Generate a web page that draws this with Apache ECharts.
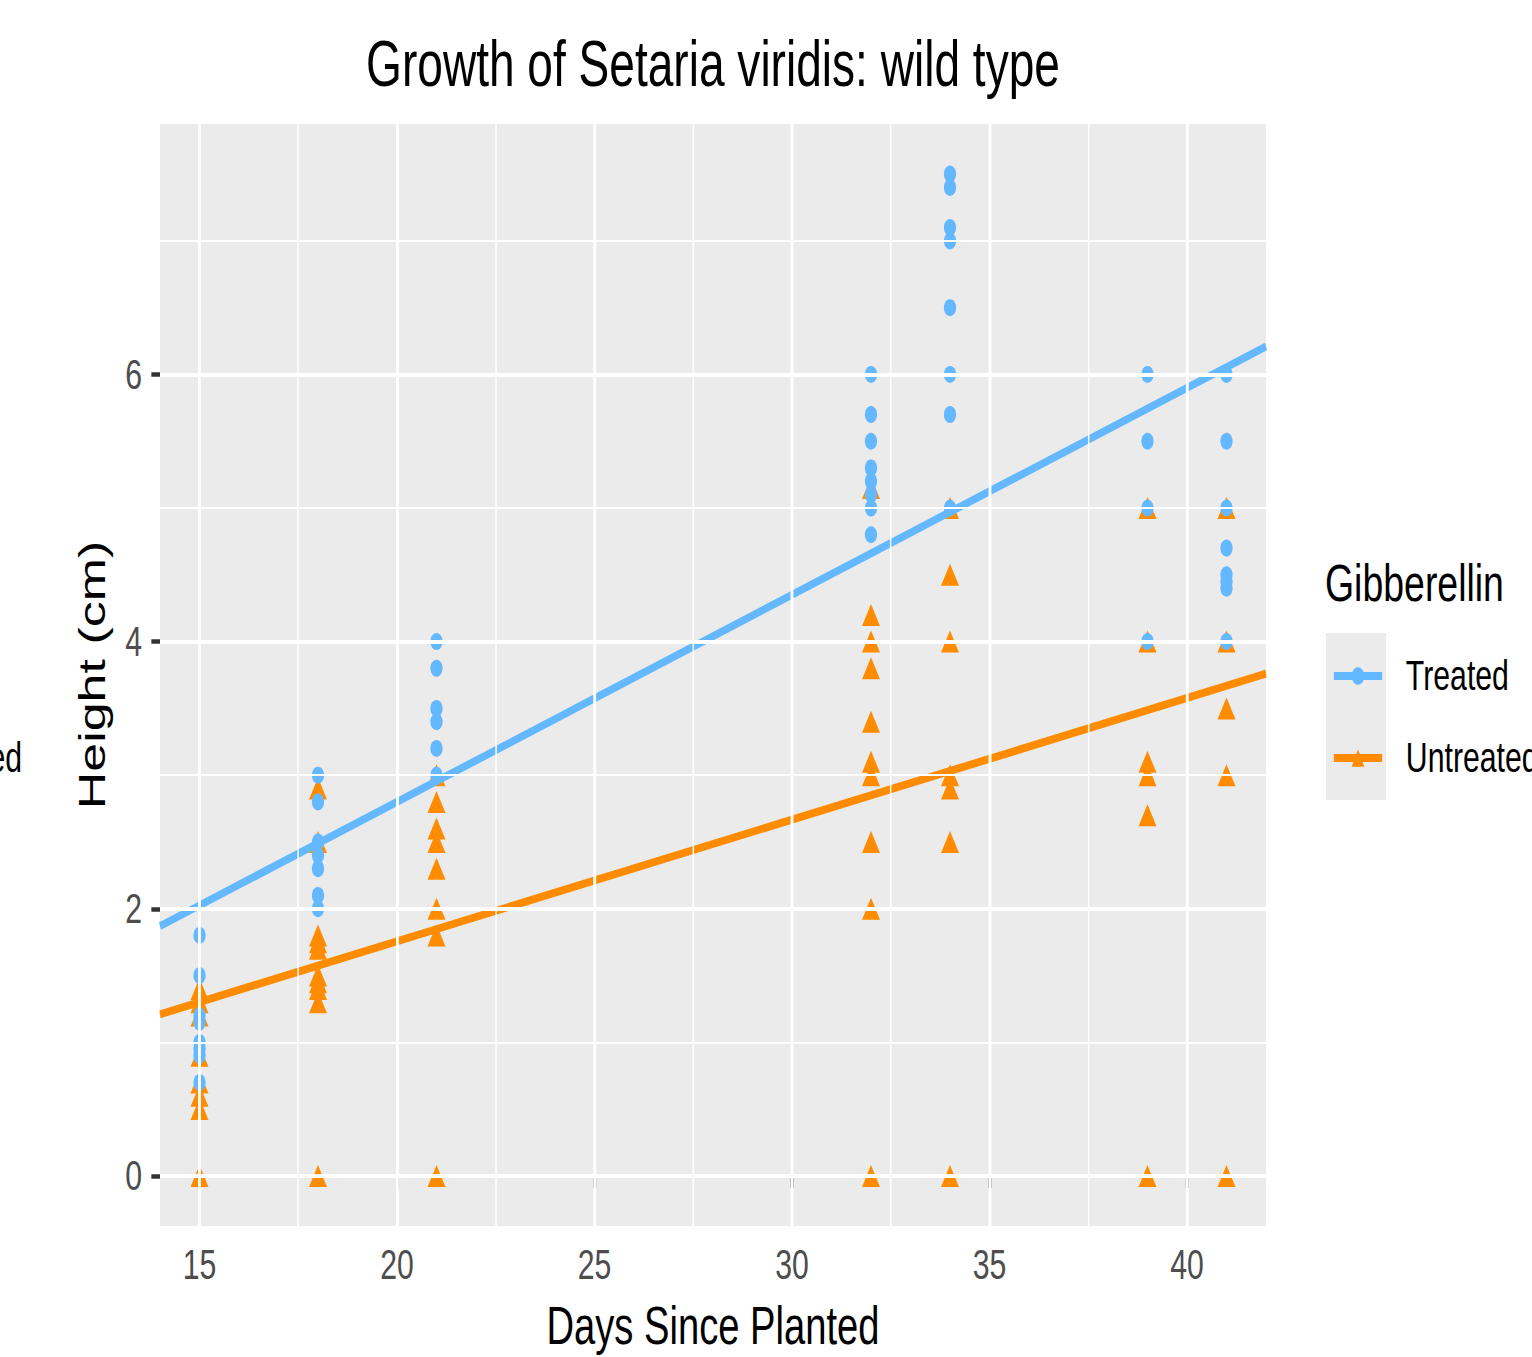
<!DOCTYPE html>
<html>
<head>
<meta charset="utf-8">
<script src="https://cdn.jsdelivr.net/npm/echarts@6/dist/echarts.min.js"></script>
<style>
  html, body { margin: 0; padding: 0; background: #ffffff; overflow: hidden; }
  #wrap { width: 1532px; height: 1357px; overflow: hidden; position: relative; }
  #chart { position: absolute; left: 0; top: 0; height: 1357px; transform-origin: 0 0; }
</style>
</head>
<body>
<div id="wrap"><div id="chart"></div></div>
<script>
// ---------------- data ----------------
const days = [15, 18, 21, 32, 34, 39, 41];
const treatedHeights = [
  [1.8, 1.5, 1.2, 1.15, 1.0, 0.95, 0.9, 0.7],
  [3.0, 2.8, 2.5, 2.4, 2.3, 2.1, 2.0],
  [4.0, 3.8, 3.5, 3.4, 3.2, 3.0],
  [6.0, 5.7, 5.5, 5.3, 5.2, 5.1, 5.0, 4.8],
  [7.5, 7.4, 7.1, 7.0, 6.5, 6.0, 5.7, 5.0],
  [6.0, 5.5, 5.0, 4.0],
  [6.0, 5.5, 5.0, 4.7, 4.5, 4.45, 4.4, 4.0]
];
const untreatedHeights = [
  [1.4, 1.3, 1.2, 0.9, 0.7, 0.6, 0.5, 0],
  [2.9, 2.5, 1.8, 1.75, 1.7, 1.5, 1.45, 1.4, 1.3, 0],
  [3.0, 2.8, 2.6, 2.5, 2.3, 2.0, 1.8, 0],
  [5.15, 4.2, 4.0, 3.8, 3.4, 3.1, 3.0, 2.5, 2.0, 0],
  [5.0, 4.5, 4.0, 3.0, 2.9, 2.5, 0],
  [5.0, 4.0, 3.1, 3.0, 2.7, 0],
  [5.0, 4.0, 3.5, 3.0, 0]
];
// fitted lines (end points)
const fitDays = [14, 42];
const treatedFit = [1.87, 6.21];
const untreatedFit = [1.21, 3.76];
// axis ticks
const xTicks = [15, 20, 25, 30, 35, 40];
const xMinor = [17.5, 22.5, 27.5, 32.5, 37.5];
const yTicks = [0, 2, 4, 6];
const yMinor = [1, 3, 5, 7];
const seriesNames = ['Treated', 'Untreated'];

// ---------------- layout ----------------
const S = 0.72;                 // horizontal squeeze of the reference picture
const W = Math.round(1532 / S);
const H = 1357;
const X = v => v / S;           // picture x -> chart x
const FONT = "'Liberation Sans', Arial, Helvetica, sans-serif";
const BLUE = '#63B8FF';
const ORANGE = '#FF8C00';

const el = document.getElementById('chart');
el.style.width = W + 'px';
el.style.transform = 'scaleX(' + S + ')';

const treatedPts = [];
days.forEach((d, i) => treatedHeights[i].forEach(h => treatedPts.push([d, h])));
const untreatedPts = [];
days.forEach((d, i) => untreatedHeights[i].forEach(h => untreatedPts.push([d, h])));

const gridLines = []
  .concat(xTicks.map(v => ({ xAxis: v, lineStyle: { width: 4 } })))
  .concat(xMinor.map(v => ({ xAxis: v, lineStyle: { width: 2 } })))
  .concat(yTicks.map(v => ({ yAxis: v, lineStyle: { width: 4 } })))
  .concat(yMinor.map(v => ({ yAxis: v, lineStyle: { width: 2 } })));

const chart = echarts.init(el, null, { renderer: 'svg', width: W, height: H });

chart.setOption({
  animation: false,
  backgroundColor: '#ffffff',
  textStyle: { fontFamily: FONT },
  grid: {
    left: X(160), right: W - X(1266), top: 124, bottom: H - 1229,
    show: true, backgroundColor: '#EBEBEB', borderWidth: 0
  },
  xAxis: {
    type: 'value', min: 14, max: 42,
    axisLine: { show: false },
    axisTick: { show: true, customValues: xTicks, length: 12, lineStyle: { color: '#333333', width: 4 } },
    axisLabel: { customValues: xTicks, fontSize: 42, color: '#4D4D4D', margin: 18, fontFamily: FONT },
    splitLine: { show: false },
    name: 'Days Since Planted', nameLocation: 'middle', nameGap: 73,
    nameTextStyle: { fontSize: 53, color: '#000000', fontFamily: FONT }
  },
  yAxis: {
    type: 'value', min: -0.375, max: 7.875,
    axisLine: { show: false },
    axisTick: { show: true, customValues: yTicks, length: 12, lineStyle: { color: '#333333', width: 4.5 } },
    axisLabel: { customValues: yTicks, fontSize: 42, color: '#4D4D4D', margin: 25, fontFamily: FONT },
    splitLine: { show: false },
    name: 'Height (cm)', nameLocation: 'middle', nameGap: 68,
    nameTextStyle: { fontSize: 52, color: '#000000', fontFamily: FONT }
  },
  legend: {
    data: seriesNames,
    orient: 'vertical',
    left: X(1331), top: 655,
    padding: 0,
    itemWidth: 67, itemHeight: 22, itemGap: 40,
    selectedMode: false,
    lineStyle: { width: 8 },
    textStyle: { fontSize: 42, color: '#000000', padding: [0, 0, 0, 28], fontFamily: FONT }
  },
  graphic: [
    { type: 'rect', z: 1, shape: { x: X(1326), y: 633, width: X(1386) - X(1326), height: 167 }, style: { fill: '#EBEBEB' } },
    { type: 'text', x: X(713), y: 64.5, style: { text: 'Growth of Setaria viridis: wild type', font: '64px ' + FONT, fill: '#000000', textAlign: 'center', textVerticalAlign: 'middle' } },
    { type: 'text', x: X(1325), y: 583.5, style: { text: 'Gibberellin', font: '52px ' + FONT, fill: '#000000', textAlign: 'left', textVerticalAlign: 'middle' } },
    { type: 'text', x: X(22), y: 758, style: { text: 'ed', font: '42px ' + FONT, fill: '#000000', textAlign: 'right', textVerticalAlign: 'middle' } }
  ],
  series: [
    {
      type: 'line', z: 1, data: [], silent: true,
      markLine: {
        silent: true, symbol: ['none', 'none'], label: { show: false },
        lineStyle: { color: '#ffffff', type: 'solid' },
        emphasis: { disabled: true },
        data: gridLines
      }
    },
    {
      name: 'Treated', type: 'line', z: 3,
      data: fitDays.map((d, i) => [d, treatedFit[i]]),
      symbol: 'circle', showSymbol: false,
      lineStyle: { color: BLUE, width: 8 }, itemStyle: { color: BLUE },
      emphasis: { disabled: true }
    },
    {
      name: 'Untreated', type: 'line', z: 3,
      data: fitDays.map((d, i) => [d, untreatedFit[i]]),
      symbol: 'triangle', showSymbol: false,
      lineStyle: { color: ORANGE, width: 8 }, itemStyle: { color: ORANGE },
      emphasis: { disabled: true }
    },
    {
      name: 'Untreated', type: 'scatter', z: 2,
      data: untreatedPts, symbol: 'triangle', symbolSize: [25, 22],
      itemStyle: { color: ORANGE, opacity: 1 },
      emphasis: { disabled: true }
    },
    {
      name: 'Treated', type: 'scatter', z: 2,
      data: treatedPts, symbol: 'circle', symbolSize: 17,
      itemStyle: { color: BLUE, opacity: 1 },
      emphasis: { disabled: true }
    }
  ]
});
</script>
</body>
</html>
